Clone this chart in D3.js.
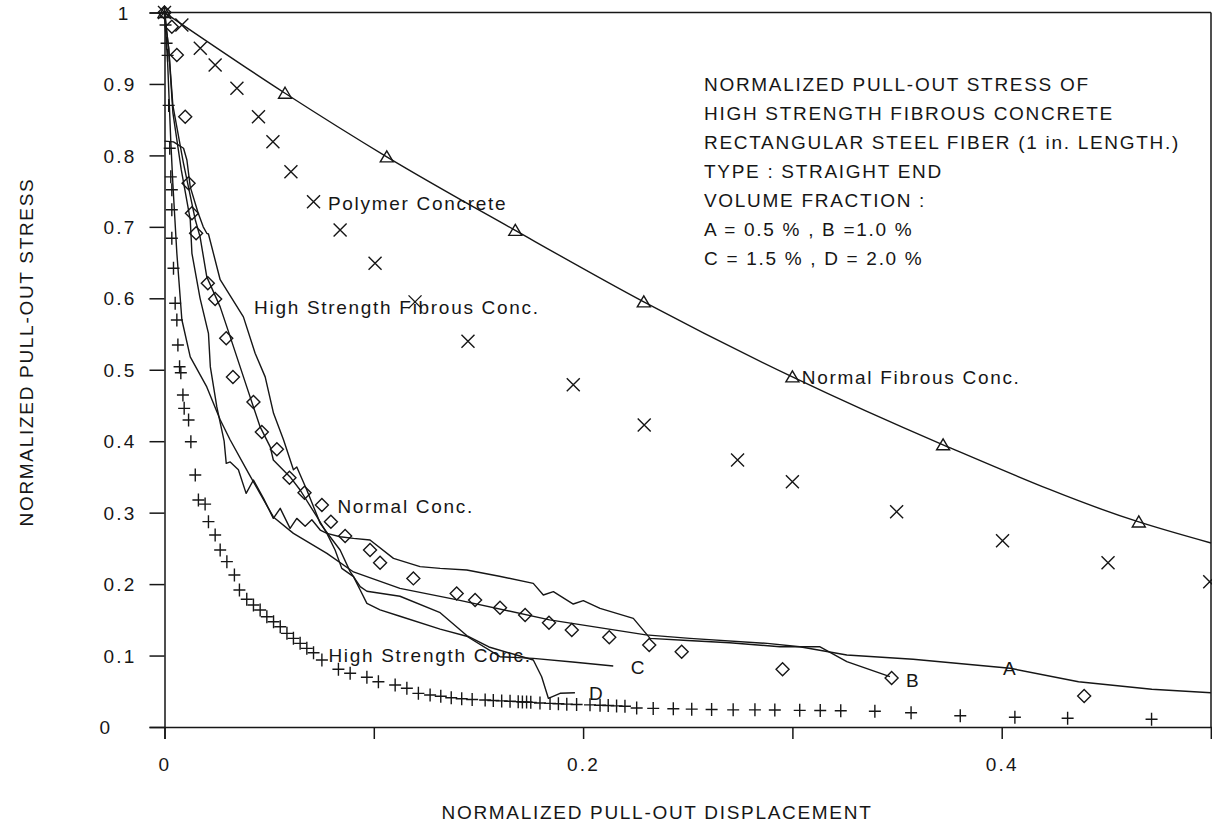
<!DOCTYPE html>
<html>
<head>
<meta charset="utf-8">
<script src="https://cdn.jsdelivr.net/npm/d3@7"></script>
<style>
  html, body { margin: 0; padding: 0; background: #fff; }
  svg text { font-family: "Liberation Sans", Arial, sans-serif; fill: #161616; letter-spacing: 1.7px; }
</style>
</head>
<body>
<svg id="chart" width="1212" height="824"></svg>
<script>
// ---------- DATA ----------
const xTicks = [0, 0.1, 0.2, 0.3, 0.4, 0.5];
const xTickLabels = ["0", "", "0.2", "", "0.4", ""];
const yTicks = [0, 0.1, 0.2, 0.3, 0.4, 0.5, 0.6, 0.7, 0.8, 0.9, 1];
const yTickLabels = ["0", "0.1", "0.2", "0.3", "0.4", "0.5", "0.6", "0.7", "0.8", "0.9", "1"];

// Normal Fibrous Conc. (triangles on smooth line)
const normalFibrousPts = [[0,1],[0.0576,0.887],[0.1062,0.798],[0.1676,0.695],[0.229,0.595],[0.300,0.490],[0.372,0.395],[0.4655,0.287]];
const normalFibrousLine = [[0,1],[0.0576,0.887],[0.1062,0.798],[0.1676,0.695],[0.229,0.595],[0.300,0.490],[0.372,0.395],[0.4655,0.287],[0.5,0.2575]];

// Polymer Concrete (x markers)
const polymerPts = [[0,1],[0.0083,0.9825],[0.0171,0.950],[0.0242,0.9265],[0.0346,0.894],[0.0449,0.854],[0.0518,0.819],[0.0604,0.777],[0.0712,0.735],[0.0839,0.6956],[0.1006,0.649],[0.1197,0.595],[0.145,0.540],[0.1953,0.479],[0.2292,0.4227],[0.2738,0.3737],[0.300,0.3433],[0.3498,0.3013],[0.4004,0.2608],[0.4508,0.230],[0.4994,0.2034]];

// Normal Conc. (diamonds)
const normalConcPts = [[0,1],[0.0035,0.98],[0.0059,0.9405],[0.0099,0.854],[0.0115,0.761],[0.0131,0.719],[0.0151,0.691],[0.0207,0.621],[0.0242,0.599],[0.0295,0.544],[0.0327,0.490],[0.0425,0.455],[0.0465,0.413],[0.0537,0.3887],[0.0597,0.349],[0.0669,0.328],[0.0752,0.3107],[0.0795,0.2874],[0.0863,0.2673],[0.0982,0.2477],[0.103,0.230],[0.1189,0.208],[0.1396,0.187],[0.1484,0.1777],[0.1603,0.167],[0.1723,0.1568],[0.1837,0.146],[0.1946,0.1358],[0.2125,0.1255],[0.2316,0.1148],[0.2471,0.1054],[0.2953,0.0808],[0.3474,0.0686],[0.4394,0.0434]];

// High Strength Conc. (+ markers)
const highStrengthPts = [[0,1],[0.0005,0.9825],[0.001,0.957],[0.0015,0.94],[0.002,0.87],[0.0025,0.81],[0.003,0.77],[0.0035,0.752],[0.0035,0.724],[0.0035,0.684],[0.0043,0.642],[0.0051,0.593],[0.0059,0.5696],[0.0064,0.5346],[0.0072,0.5043],[0.0078,0.4959],[0.0088,0.4647],[0.0094,0.446],[0.0115,0.4297],[0.0126,0.3993],[0.0147,0.3527],[0.0162,0.3177],[0.0194,0.312],[0.021,0.2874],[0.0242,0.2687],[0.0266,0.2477],[0.0298,0.2314],[0.0334,0.2127],[0.0358,0.1917],[0.0393,0.1787],[0.0425,0.1707],[0.0457,0.1637],[0.0489,0.1544],[0.0521,0.1474],[0.0553,0.1404],[0.0585,0.1311],[0.0616,0.1241],[0.0648,0.1171],[0.068,0.1101],[0.0712,0.104],[0.0752,0.0938],[0.0831,0.0808],[0.0887,0.0752],[0.0967,0.0696],[0.1022,0.0634],[0.1102,0.0588],[0.1158,0.0542],[0.1213,0.0471],[0.1269,0.0448],[0.132,0.043],[0.137,0.041],[0.142,0.0395],[0.147,0.0385],[0.1532,0.0378],[0.1571,0.037],[0.1611,0.0365],[0.1651,0.036],[0.169,0.0355],[0.171,0.035],[0.173,0.035],[0.175,0.0345],[0.1794,0.0336],[0.1842,0.033],[0.1882,0.0325],[0.1922,0.032],[0.1969,0.0315],[0.2033,0.031],[0.2081,0.0305],[0.212,0.030],[0.216,0.0295],[0.220,0.029],[0.2256,0.0266],[0.2335,0.026],[0.2431,0.0255],[0.2519,0.025],[0.2614,0.0245],[0.2717,0.024],[0.2821,0.024],[0.2916,0.0238],[0.3035,0.0233],[0.3133,0.023],[0.3231,0.0228],[0.3394,0.022],[0.3567,0.020],[0.3802,0.0158],[0.4063,0.0136],[0.4315,0.0122],[0.4716,0.0108]];

// High Strength Fibrous Conc. curves A-D (volume fraction)
const lineA = [[0,1],[0.0015,0.93],[0.003,0.82],[0.004,0.76],[0.005,0.709],[0.0059,0.663],[0.0083,0.57],[0.0123,0.518],[0.0202,0.476],[0.0266,0.43],[0.0314,0.4017],[0.040,0.356],[0.052,0.294],[0.0616,0.271],[0.0776,0.243],[0.0903,0.217],[0.1125,0.194],[0.14,0.178],[0.184,0.150],[0.230,0.129],[0.251,0.124],[0.288,0.117],[0.3035,0.1124],[0.326,0.1008],[0.3577,0.0948],[0.404,0.0822],[0.4367,0.0634],[0.4717,0.0528],[0.5,0.048]];
const lineB = [[0,1],[0.002,0.95],[0.004,0.86],[0.008,0.78],[0.0123,0.71],[0.0131,0.663],[0.017,0.60],[0.021,0.551],[0.0219,0.504],[0.025,0.448],[0.0285,0.40],[0.0295,0.369],[0.0314,0.371],[0.0353,0.36],[0.039,0.327],[0.0425,0.3457],[0.0473,0.32],[0.052,0.292],[0.0553,0.306],[0.06,0.278],[0.0632,0.292],[0.0672,0.281],[0.0704,0.29],[0.0744,0.2757],[0.0776,0.271],[0.0839,0.2663],[0.0903,0.264],[0.0982,0.2617],[0.1094,0.236],[0.1221,0.2244],[0.1317,0.222],[0.1444,0.2197],[0.16,0.211],[0.1762,0.201],[0.181,0.1847],[0.1858,0.1894],[0.1953,0.1721],[0.2001,0.1768],[0.2081,0.166],[0.224,0.152],[0.232,0.1241],[0.25,0.121],[0.27,0.118],[0.294,0.1124],[0.313,0.1124],[0.326,0.0914],[0.3466,0.0704]];
const lineC = [[0,1],[0.002,0.95],[0.004,0.87],[0.009,0.79],[0.0147,0.71],[0.017,0.686],[0.0202,0.63],[0.0266,0.588],[0.0314,0.546],[0.0393,0.476],[0.0425,0.448],[0.0457,0.42],[0.0505,0.392],[0.052,0.3737],[0.06,0.35],[0.0648,0.3317],[0.0728,0.2943],[0.0776,0.271],[0.0815,0.2477],[0.0847,0.222],[0.0903,0.2104],[0.0935,0.1917],[0.0967,0.173],[0.103,0.164],[0.1125,0.155],[0.1317,0.137],[0.1444,0.127],[0.1603,0.0984],[0.1762,0.096],[0.195,0.091],[0.2144,0.0854]];
const lineD = [[0,0.82],[0.0043,0.819],[0.0091,0.81],[0.0107,0.7936],[0.0123,0.756],[0.016,0.72],[0.0185,0.70],[0.0202,0.691],[0.021,0.69],[0.0266,0.626],[0.0377,0.574],[0.0433,0.523],[0.0481,0.49],[0.0521,0.439],[0.0569,0.4017],[0.0616,0.36],[0.0632,0.364],[0.068,0.3317],[0.0744,0.285],[0.0791,0.2663],[0.0839,0.2477],[0.0887,0.2174],[0.0935,0.1964],[0.0967,0.19],[0.1125,0.183],[0.1317,0.16],[0.1444,0.128],[0.155,0.112],[0.1762,0.0938],[0.1802,0.0704],[0.1834,0.0402],[0.189,0.0472],[0.1961,0.048]];

// In-plot labels: [text, x, y]
const seriesLabels = [
  ["Polymer Concrete", 0.0781, 0.733],
  ["High Strength Fibrous Conc.", 0.0428, 0.5874],
  ["Normal Fibrous Conc.", 0.3045, 0.490],
  ["Normal Conc.", 0.0826, 0.3083],
  ["High Strength Conc.", 0.0783, 0.1008]
];
const curveLetters = [["A", 0.4041, 0.0822], ["B", 0.3577, 0.0658], ["C", 0.2264, 0.0836], ["D", 0.2065, 0.0472]];

const noteLines = [
  "NORMALIZED PULL-OUT STRESS OF",
  "HIGH STRENGTH FIBROUS CONCRETE",
  "RECTANGULAR STEEL FIBER (1 in. LENGTH.)",
  "TYPE : STRAIGHT END",
  "VOLUME FRACTION :",
  "A = 0.5 % , B =1.0 %",
  "C = 1.5 % , D = 2.0 %"
];
const xTitle = "NORMALIZED PULL-OUT DISPLACEMENT";
const yTitle = "NORMALIZED PULL-OUT STRESS";

// ---------- DRAW ----------
(function () {
const svg = d3.select("#chart");
const INK = "#161616";
const pL = 164.5, pR = 1211, pT = 12.5, pB = 727;
const x = d3.scaleLinear().domain([0, 0.5]).range([pL, pR]);
const y = d3.scaleLinear().domain([0, 1]).range([pB, pT]);
const FS = 19;

// frame (top & right)
svg.append("line").attr("x1", pL).attr("x2", pR).attr("y1", pT).attr("y2", pT)
  .attr("stroke", INK).attr("stroke-width", 1.5);
svg.append("line").attr("x1", pR).attr("x2", pR).attr("y1", pT).attr("y2", pB)
  .attr("stroke", INK).attr("stroke-width", 1.5);

// x axis
const gx = svg.append("g").attr("transform", `translate(0,${pB})`)
  .call(d3.axisBottom(x).tickValues(xTicks).tickSize(12)
    .tickFormat((d, i) => xTickLabels[i]));
gx.attr("font-family", null).attr("font-size", null);
gx.select(".domain").attr("stroke", INK).attr("stroke-width", 1.5);
gx.selectAll(".tick line").attr("stroke", INK).attr("stroke-width", 1.5);
gx.selectAll(".tick text").attr("y", 37).attr("dy", "0.35em")
  .attr("font-size", FS).attr("fill", INK).style("letter-spacing", "2.2px");

// y axis
const gy = svg.append("g").attr("transform", `translate(${pL},0)`)
  .call(d3.axisLeft(y).tickValues(yTicks).tickSize(15)
    .tickFormat((d, i) => yTickLabels[i]));
gy.attr("font-family", null).attr("font-size", null);
gy.select(".domain").attr("stroke", INK).attr("stroke-width", 1.5);
gy.selectAll(".tick line").attr("stroke", INK).attr("stroke-width", 1.5);
gy.selectAll(".tick text").attr("font-size", FS).attr("fill", INK).attr("dy", "0.35em")
  .style("letter-spacing", "2.2px")
  .each(function(d) {
    const t = d3.select(this);
    if (d === 0) t.attr("text-anchor", "start").attr("x", -65);
    else if (d === 1) t.attr("text-anchor", "end").attr("x", -34);
    else t.attr("text-anchor", "end").attr("x", -28);
  });

// axis titles
svg.append("text").attr("x", 657).attr("y", 812).attr("dy", "0.35em")
  .attr("text-anchor", "middle").attr("font-size", FS).text(xTitle);
svg.append("text").attr("transform", `translate(26,352) rotate(-90)`).attr("dy", "0.35em")
  .attr("text-anchor", "middle").attr("font-size", FS).text(yTitle);

// lines
const lineGen = d3.line().x(d => x(d[0])).y(d => y(d[1]));
const smoothGen = d3.line().x(d => x(d[0])).y(d => y(d[1])).curve(d3.curveMonotoneX);
const plot = svg.append("g");
plot.append("path").datum(normalFibrousLine).attr("d", smoothGen)
  .attr("fill", "none").attr("stroke", INK).attr("stroke-width", 1.4);
[lineA, lineB, lineC, lineD].forEach(l => plot.append("path").datum(l).attr("d", lineGen)
  .attr("fill", "none").attr("stroke", INK).attr("stroke-width", 1.4).attr("stroke-linejoin", "round"));

// markers
const mk = {
  tri: "M0,-6 L6.5,5 L-6.5,5 Z",
  times: "M-6.5,-6.5 L6.5,6.5 M-6.5,6.5 L6.5,-6.5",
  diamond: "M0,-6.5 L6.5,0 L0,6.5 L-6.5,0 Z",
  plus: "M-6,0 H6 M0,-6.5 V6.5"
};
function drawMarkers(data, path) {
  plot.append("g").selectAll("path").data(data).join("path")
    .attr("transform", d => `translate(${x(d[0])},${y(d[1])})`)
    .attr("d", path).attr("fill", "none").attr("stroke", INK).attr("stroke-width", 1.4);
}
drawMarkers(normalFibrousPts, mk.tri);
drawMarkers(polymerPts, mk.times);
drawMarkers(normalConcPts, mk.diamond);
drawMarkers(highStrengthPts, mk.plus);

// labels
svg.append("g").selectAll("text").data(seriesLabels).join("text")
  .attr("x", d => x(d[1])).attr("y", d => y(d[2])).attr("dy", "0.35em")
  .attr("font-size", FS).text(d => d[0]);
svg.append("g").selectAll("text").data(curveLetters).join("text")
  .attr("x", d => x(d[1])).attr("y", d => y(d[2])).attr("dy", "0.35em")
  .attr("text-anchor", "middle").attr("font-size", FS).text(d => d[0]);

// note block
svg.append("g").selectAll("text").data(noteLines).join("text")
  .attr("x", 704).attr("y", (d, i) => 84 + i * 29).attr("dy", "0.35em")
  .attr("font-size", FS).text(d => d);
})();
</script>
</body>
</html>
